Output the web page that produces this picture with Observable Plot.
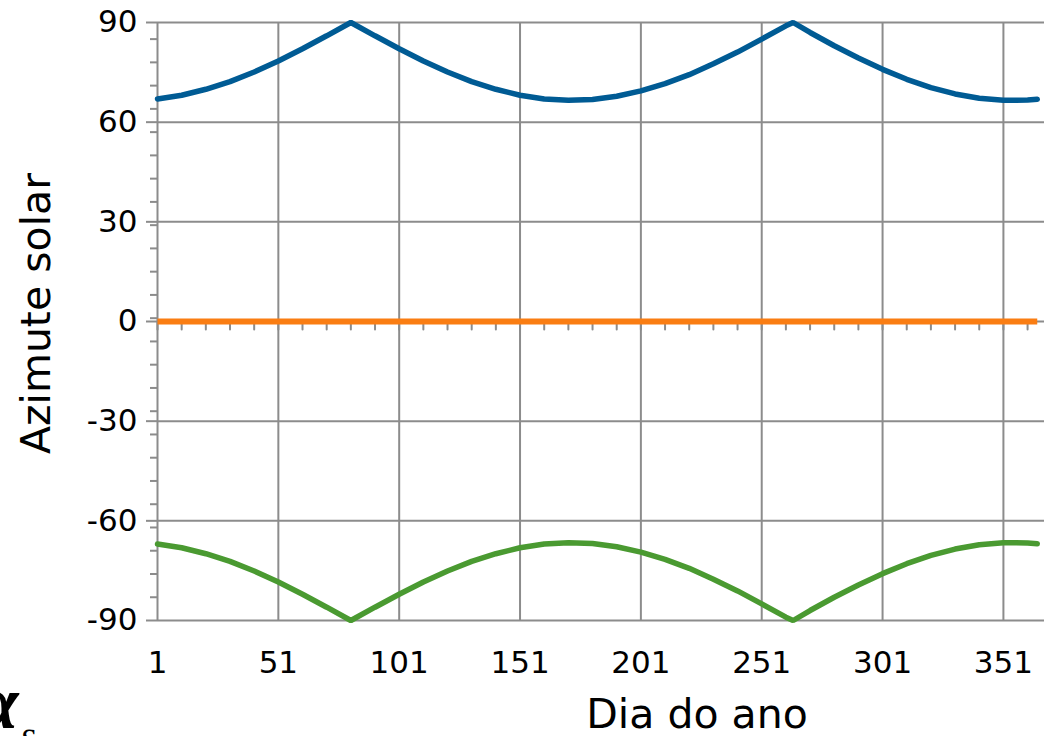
<!DOCTYPE html>
<html><head><meta charset="utf-8">
<script src="https://cdn.jsdelivr.net/npm/d3@7"></script>
<script src="https://cdn.jsdelivr.net/npm/@observablehq/plot@0.6"></script>
<style>body{margin:0;background:#fff;} #chart{width:1044px;height:736px;overflow:hidden}</style>
</head><body><div id="chart"></div>
<script>
// Dia do ano (sampled)
const days = [1,11,21,31,41,51,61,71,81,91,101,111,121,131,141,151,161,171,181,191,201,211,221,231,241,251,261,264,271,281,291,301,311,321,331,341,351,356,361,365];
// Azimute solar (blue, upper)
const azBlue = [67.0,68.1,69.9,72.2,75.1,78.4,82.1,86.0,90.0,86.0,82.1,78.4,75.1,72.2,69.9,68.1,67.0,66.6,66.8,67.8,69.4,71.6,74.3,77.6,81.1,85.0,89.0,90.0,87.0,83.0,79.3,75.9,72.9,70.4,68.5,67.2,66.6,66.6,66.7,66.9];
// Azimute solar (orange, zero)
const azOrange = [0,0,0,0,0,0,0,0,0,0,0,0,0,0,0,0,0,0,0,0,0,0,0,0,0,0,0,0,0,0,0,0,0,0,0,0,0,0,0,0];
// Azimute solar (green, lower)
const azGreen = [-67.0,-68.1,-69.9,-72.2,-75.1,-78.4,-82.1,-86.0,-90.0,-86.0,-82.1,-78.4,-75.1,-72.2,-69.9,-68.1,-67.0,-66.6,-66.8,-67.8,-69.4,-71.6,-74.3,-77.6,-81.1,-85.0,-89.0,-90.0,-87.0,-83.0,-79.3,-75.9,-72.9,-70.4,-68.5,-67.2,-66.6,-66.6,-66.7,-66.9];

const xTicks = [1,51,101,151,201,251,301,351];
const xMinor = [1,11,21,31,41,51,61,71,81,91,101,111,121,131,141,151,161,171,181,191,201,211,221,231,241,251,261,271,281,291,301,311,321,331,341,351,361];
const yTicks = [-90,-60,-30,0,30,60,90];
const yMinor = [-83,-76,-69,-62,-55,-48,-41,-34,-27,-20,-13,-6,1,8,15,22,29,36,43,50,57,64,71,78,85];

const xTitle = "Dia do ano";
const yTitle = "Azimute solar";

const data = days.map((d, i) => ({d, blue: azBlue[i], orange: azOrange[i], green: azGreen[i]}));
const grid = "#8c8c8c";
const tickShape = {draw(ctx, l) { ctx.moveTo(0, 0); ctx.lineTo(0, -l); }};

const chart = Plot.plot({
  width: 1044, height: 736,
  marginLeft: 157, marginRight: 0, marginTop: 22, marginBottom: 116,
  style: {fontFamily: "'DejaVu Sans', Verdana, sans-serif", fontSize: "31px", color: "#000", background: "#fff"},
  x: {domain: [1, 368]},
  y: {domain: [-90, 90]},
  marks: [
    Plot.ruleX(xTicks, {stroke: grid, strokeWidth: 2, strokeOpacity: 1}),
    Plot.ruleY(yTicks, {stroke: grid, strokeWidth: 2, strokeOpacity: 1}),
    Plot.axisY(yTicks, {tickSize: 11, text: null, stroke: grid, strokeWidth: 2, strokeOpacity: 1, label: null}),
    Plot.axisY(yMinor, {tickSize: 7, text: null, stroke: grid, strokeWidth: 2, strokeOpacity: 1, label: null}),
    Plot.axisY(yTicks, {tickSize: 0, tickPadding: 20, tickFormat: d => String(d), label: null, fontSize: 31}),
    Plot.axisX(xTicks, {tickSize: 0, tickPadding: 30, tickFormat: d => String(d), label: null, fontSize: 31}),
    Plot.vector(xMinor, {x: d => d, y: 0, length: 8, rotate: 180, anchor: "start", shape: tickShape, stroke: grid, strokeWidth: 2}),
    Plot.line(data, {x: "d", y: "orange", stroke: "#fa7d12", strokeWidth: 6, strokeLinecap: "butt"}),
    Plot.line(data, {x: "d", y: "blue", stroke: "#005b94", strokeWidth: 5.5, strokeLinejoin: "miter"}),
    Plot.line(data, {x: "d", y: "green", stroke: "#4a9a31", strokeWidth: 5.5, strokeLinejoin: "miter"}),
    Plot.text([xTitle], {frameAnchor: "bottom", dx: 96, dy: 107, lineAnchor: "bottom", textAnchor: "middle", fontSize: 41}),
    Plot.text([yTitle], {frameAnchor: "left", dx: -121, dy: -8, rotate: -90, lineAnchor: "middle", textAnchor: "middle", fontSize: 41}),
    Plot.text(["α"], {frameAnchor: "bottom-left", dx: -181, dy: 107, lineAnchor: "bottom", textAnchor: "start", fontSize: 76, fontStyle: "italic", fontWeight: "bold", fontFamily: "'Liberation Serif', serif"}),
    Plot.text(["s"], {frameAnchor: "bottom-left", dx: -136, dy: 128, lineAnchor: "bottom", textAnchor: "start", fontSize: 40, fontFamily: "'Liberation Serif', serif"})
  ]
});
document.getElementById("chart").appendChild(chart);
</script>
</body></html>
